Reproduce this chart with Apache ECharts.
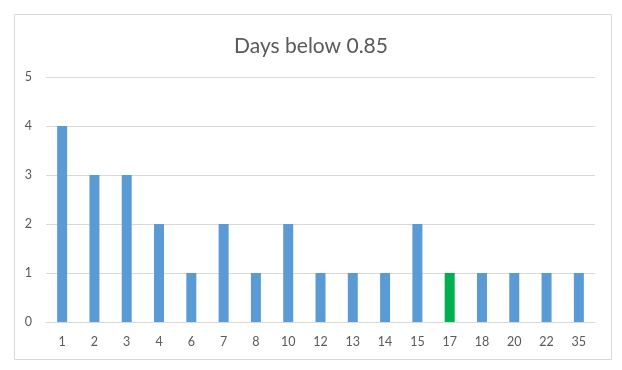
<!DOCTYPE html>
<html><head><meta charset="utf-8">
<script src="https://cdn.jsdelivr.net/npm/echarts@6/dist/echarts.min.js"></script>
<style>html,body{margin:0;padding:0;background:#fff}#c{width:622px;height:370px}</style>
</head><body><div id="c"></div>
<script>
const categories = ['1','2','3','4','6','7','8','10','12','13','14','15','17','18','20','22','35'];
const values = [4,3,3,2,1,2,1,2,1,1,1,2,1,1,1,1,1];
const highlightCategory = '17';
const yTicks = [0,1,2,3,4,5];

const chart = echarts.init(document.getElementById('c'), null, {renderer:'canvas'});
const font = 'Lato, "Open Sans", sans-serif';
chart.setOption({
  animation:false,
  backgroundColor:'#fff',
  graphic:[{type:'rect',shape:{x:14.5,y:14.5,width:597,height:345},style:{fill:'none',stroke:'#d9d9d9',lineWidth:1},silent:true}],
  title:{text:'Days below 0.85',left:'center',top:31,textStyle:{fontFamily:font,fontSize:21,fontWeight:'normal',color:'#595959'}},
  grid:{left:46,right:27,top:77,bottom:48,containLabel:false},
  xAxis:{type:'category',data:categories,
    axisLine:{show:true,lineStyle:{color:'#d9d9d9'}},axisTick:{show:false},
    axisLabel:{color:'#595959',fontFamily:font,fontSize:12.5,margin:13}},
  yAxis:{type:'value',min:yTicks[0],max:yTicks[yTicks.length-1],interval:1,
    axisLine:{show:false},axisTick:{show:false},
    splitLine:{lineStyle:{color:'#d9d9d9'}},
    axisLabel:{color:'#595959',fontFamily:font,fontSize:12.5,margin:14}},
  series:[{type:'bar',barWidth:10,
    data:values.map((v,i)=>({value:v,itemStyle:{color:categories[i]===highlightCategory?'#00b050':'#5b9bd5'}}))}]
});
</script></body></html>
